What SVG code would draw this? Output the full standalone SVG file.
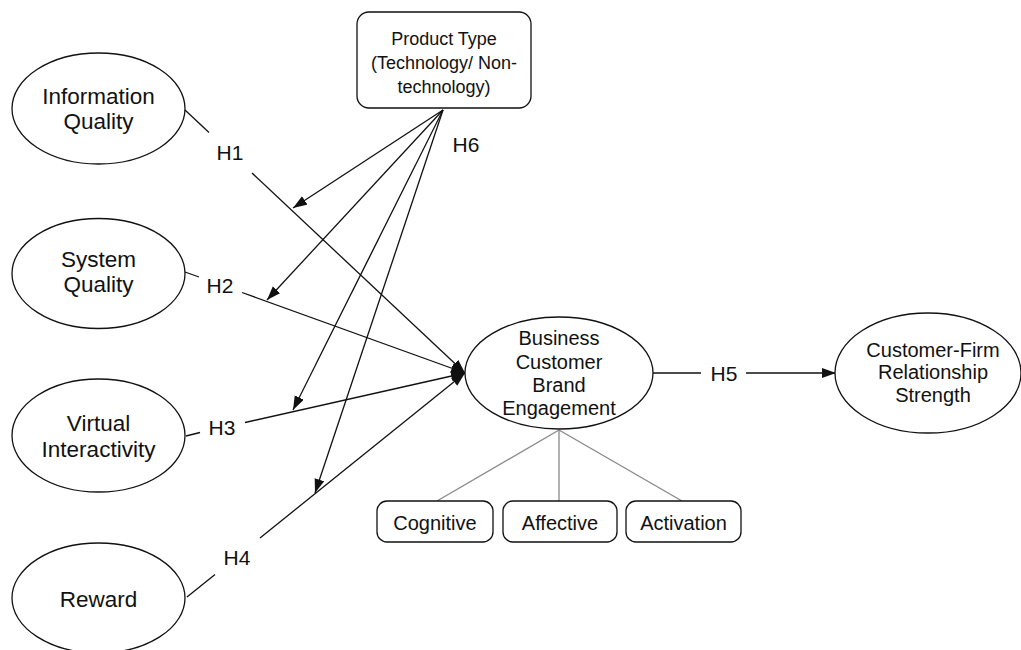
<svg xmlns="http://www.w3.org/2000/svg" width="1021" height="650" viewBox="0 0 1021 650">
<defs>
<style>
text{font-family:"Liberation Sans",Arial,Helvetica,sans-serif;fill:#111;text-anchor:middle}
.big{font-size:22.5px}
.mid{font-size:20px}
.sm{font-size:18px}
.lbl{font-size:21px}
.shape{fill:#fff;stroke:#111;stroke-width:1.3}
.ln{fill:none;stroke:#111;stroke-width:1.3}
.sub{fill:none;stroke:#888;stroke-width:1.3}
</style>
<marker id="arr" markerUnits="userSpaceOnUse" markerWidth="15" markerHeight="11" refX="14" refY="5" orient="auto">
<path d="M0,0 L14,5 L0,10 z" fill="#111"/>
</marker>
</defs>
<rect width="1021" height="650" fill="#fff"/>

<g id="connectors">
<line class="ln" x1="185" y1="110" x2="209" y2="132.5"/>
<line class="ln" x1="252" y1="173" x2="465" y2="373" marker-end="url(#arr)"/>
<line class="ln" x1="185" y1="272" x2="199" y2="277"/>
<line class="ln" x1="242" y1="292.5" x2="465" y2="373" marker-end="url(#arr)"/>
<line class="ln" x1="186" y1="436" x2="200" y2="432.5"/>
<line class="ln" x1="245" y1="422.5" x2="465" y2="373" marker-end="url(#arr)"/>
<line class="ln" x1="187" y1="597" x2="215" y2="574.5"/>
<line class="ln" x1="260" y1="538" x2="465" y2="373" marker-end="url(#arr)"/>
<line class="ln" x1="443" y1="110" x2="293" y2="208" marker-end="url(#arr)"/>
<line class="ln" x1="443" y1="110" x2="267" y2="300" marker-end="url(#arr)"/>
<line class="ln" x1="443" y1="110" x2="293" y2="410" marker-end="url(#arr)"/>
<line class="ln" x1="443" y1="110" x2="315" y2="493" marker-end="url(#arr)"/>
<line class="ln" x1="653" y1="373" x2="701" y2="373"/>
<line class="ln" x1="746" y1="373" x2="836" y2="373" marker-end="url(#arr)"/>
<line class="sub" x1="559" y1="430" x2="437" y2="501"/>
<line class="sub" x1="559" y1="430" x2="559" y2="501"/>
<line class="sub" x1="559" y1="430" x2="682" y2="501"/>
<text class="lbl" x="230" y="160">H1</text>
<text class="lbl" x="220" y="293">H2</text>
<text class="lbl" x="222" y="435">H3</text>
<text class="lbl" x="237" y="565">H4</text>
<text class="lbl" x="724" y="381">H5</text>
<text class="lbl" x="466" y="152">H6</text>
</g>

<g id="node-product-type">
<rect class="shape" x="357" y="12" width="174" height="96" rx="12"/>
<text class="sm" x="444" y="45">Product Type</text>
<text class="sm" x="444" y="69">(Technology/ Non-</text>
<text class="sm" x="444" y="93">technology)</text>
</g>

<g id="node-information-quality">
<ellipse class="shape" cx="98.5" cy="108.5" rx="86.5" ry="55.5"/>
<text class="big" x="98.5" y="104">Information</text>
<text class="big" x="98.5" y="129">Quality</text>
</g>

<g id="node-system-quality">
<ellipse class="shape" cx="98.5" cy="273.5" rx="86.5" ry="55"/>
<text class="big" x="98.5" y="267">System</text>
<text class="big" x="98.5" y="292">Quality</text>
</g>

<g id="node-virtual-interactivity">
<ellipse class="shape" cx="98.5" cy="435.5" rx="86.5" ry="56.5"/>
<text class="big" x="98.5" y="431">Virtual</text>
<text class="big" x="98.5" y="457">Interactivity</text>
</g>

<g id="node-reward">
<ellipse class="shape" cx="98.5" cy="598" rx="86.5" ry="55"/>
<text class="big" x="98.5" y="607">Reward</text>
</g>

<g id="node-bcbe">
<ellipse class="shape" cx="559" cy="373" rx="94" ry="56"/>
<text class="mid" x="559" y="345">Business</text>
<text class="mid" x="559" y="369">Customer</text>
<text class="mid" x="559" y="392">Brand</text>
<text class="mid" x="559" y="415">Engagement</text>
</g>

<g id="node-cfrs">
<ellipse class="shape" cx="928" cy="373" rx="93" ry="60"/>
<text class="mid" x="933" y="357">Customer-Firm</text>
<text class="mid" x="933" y="379">Relationship</text>
<text class="mid" x="933" y="402">Strength</text>
</g>

<g id="node-cognitive">
<rect class="shape" x="377" y="501" width="116" height="41" rx="10"/>
<text class="mid" x="435" y="530">Cognitive</text>
</g>

<g id="node-affective">
<rect class="shape" x="503" y="501" width="114" height="41" rx="10"/>
<text class="mid" x="560" y="530">Affective</text>
</g>

<g id="node-activation">
<rect class="shape" x="626" y="501" width="115" height="41" rx="10"/>
<text class="mid" x="683.5" y="530">Activation</text>
</g>
</svg>
